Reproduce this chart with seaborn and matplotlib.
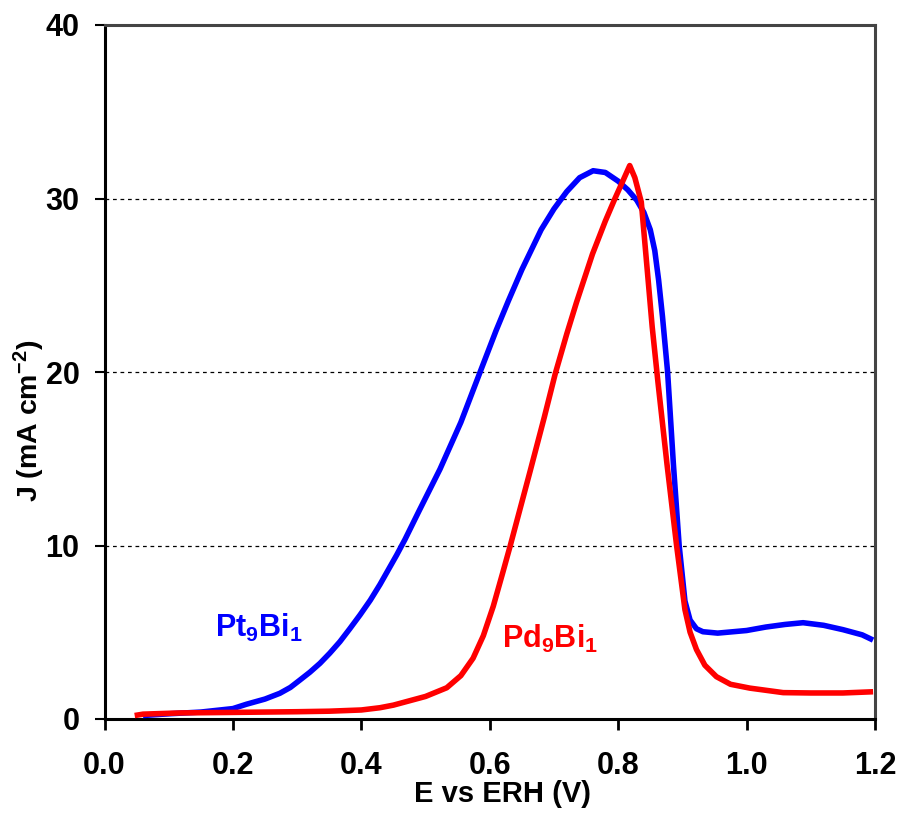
import numpy as np
import pandas as pd
import matplotlib
matplotlib.use("Agg")
import matplotlib.pyplot as plt
import seaborn as sns

# Pt9Bi1 (blue)
pt_E = [0.06, 0.10, 0.15, 0.20, 0.221, 0.25, 0.273, 0.2895, 0.3045, 0.32, 0.3356, 0.351,
        0.3667, 0.382, 0.398, 0.414, 0.429, 0.442, 0.455, 0.468, 0.49, 0.5225, 0.555,
        0.585, 0.61, 0.629, 0.65, 0.68, 0.70, 0.72, 0.74, 0.761, 0.78, 0.80, 0.815,
        0.829, 0.84, 0.85, 0.857, 0.863, 0.869, 0.877, 0.886, 0.895, 0.904, 0.912,
        0.922, 0.932, 0.955, 0.979, 1.00, 1.03, 1.06, 1.088, 1.12, 1.15, 1.18, 1.197]
pt_J = [0.2, 0.3, 0.4, 0.6, 0.85, 1.15, 1.48, 1.82, 2.25, 2.7, 3.21, 3.8,
        4.46, 5.2, 6.0, 6.85, 7.75, 8.6, 9.45, 10.35, 12.0, 14.4, 17.1,
        20.0, 22.4, 24.1, 25.9, 28.2, 29.4, 30.4, 31.2, 31.6, 31.5, 31.0, 30.5,
        29.9, 29.2, 28.2, 27.0, 25.3, 23.2, 20.0, 14.7, 10.0, 6.8, 5.7,
        5.2, 5.03, 4.95, 5.03, 5.1, 5.3, 5.45, 5.55, 5.4, 5.15, 4.85, 4.55]

# Pd9Bi1 (red)
pd_E = [0.047, 0.06, 0.118, 0.20, 0.30, 0.35, 0.40, 0.429, 0.45, 0.47, 0.50, 0.533,
        0.555, 0.574, 0.59, 0.6055, 0.62, 0.632, 0.663, 0.685, 0.702, 0.72, 0.735,
        0.76, 0.78, 0.795, 0.806, 0.818, 0.826, 0.836, 0.845, 0.853, 0.862, 0.876,
        0.891, 0.904, 0.912, 0.922, 0.935, 0.953, 0.975, 1.005, 1.057, 1.10, 1.15, 1.197]
pd_J = [0.2, 0.28, 0.35, 0.38, 0.42, 0.45, 0.52, 0.65, 0.8, 1.0, 1.3, 1.8,
        2.5, 3.5, 4.8, 6.5, 8.4, 10.0, 14.3, 17.4, 19.9, 22.2, 24.0,
        26.8, 28.7, 30.0, 30.9, 31.9, 31.2, 29.8, 26.0, 22.6, 19.4, 14.7,
        10.0, 6.3, 5.0, 4.0, 3.1, 2.44, 2.0, 1.78, 1.52, 1.5, 1.5, 1.57]

x_ticks = [0.0, 0.2, 0.4, 0.6, 0.8, 1.0, 1.2]
x_tick_labels = ["0.0", "0.2", "0.4", "0.6", "0.8", "1.0", "1.2"]
y_ticks = [0, 10, 20, 30, 40]
y_tick_labels = ["0", "10", "20", "30", "40"]

sns.set_theme(style="white")
plt.rcParams["font.family"] = ["Liberation Sans", "DejaVu Sans"]
plt.rcParams["font.weight"] = "bold"
plt.rcParams["mathtext.fontset"] = "custom"
plt.rcParams["mathtext.rm"] = "Liberation Sans:bold"
plt.rcParams["mathtext.bf"] = "Liberation Sans:bold"
plt.rcParams["mathtext.it"] = "Liberation Sans:bold"
plt.rcParams["mathtext.default"] = "bf"

fig = plt.figure(figsize=(9.01, 8.16), dpi=100)
ax = fig.add_axes([104.5 / 901, 97 / 816, 770.5 / 901, 694 / 816])

df_pt = pd.DataFrame({"E": pt_E, "J": pt_J})
df_pd = pd.DataFrame({"E": pd_E, "J": pd_J})

for y in [10, 20, 30]:
    ax.axhline(y, color="black", linestyle=(0, (3, 3)), linewidth=0.9, zorder=1)

sns.lineplot(data=df_pt, x="E", y="J", ax=ax, color="#0000FF", linewidth=4.0,
             sort=False, estimator=None, zorder=3)
sns.lineplot(data=df_pd, x="E", y="J", ax=ax, color="#FF0000", linewidth=4.0,
             sort=False, estimator=None, zorder=4)
for ln in ax.lines:
    ln.set_solid_joinstyle("round")
    ln.set_solid_capstyle("butt")

ax.set_xlim(0, 1.2)
ax.set_ylim(0, 40)
ax.set_xticks(x_ticks)
ax.set_xticklabels(x_tick_labels)
ax.set_yticks(y_ticks)
ax.set_yticklabels(y_tick_labels)

ax.tick_params(axis="x", direction="out", length=8, width=2, color="black",
               labelsize=22, pad=15, bottom=True)
ax.tick_params(axis="y", direction="out", length=7, width=1.5, color="black",
               labelsize=22, pad=11, left=True)
for lab in ax.get_xticklabels() + ax.get_yticklabels():
    lab.set_fontweight("bold")
    lab.set_color("black")

for side in ["left", "bottom"]:
    ax.spines[side].set_color("black")
    ax.spines[side].set_linewidth(2.2)
for side in ["top", "right"]:
    ax.spines[side].set_color("#444444")
    ax.spines[side].set_linewidth(2.2)

ax.set_xlabel("E vs ERH (V)", fontsize=21, fontweight="bold", color="black")
ax.set_ylabel("J (mA cm$^{-2}$)", fontsize=20.5, fontweight="bold", color="black")
ax.xaxis.set_label_coords(0.516, -0.108)
ax.yaxis.set_label_coords(-0.098, 0.43)
ax.yaxis.label.set_va("center")
ax.xaxis.label.set_va("center")

ax.text(0.172, 4.73, "Pt$_{9}$Bi$_{1}$", color="#0000FF", fontsize=22,
        fontweight="bold", ha="left", va="baseline")
ax.text(0.619, 4.09, "Pd$_{9}$Bi$_{1}$", color="#FF0000", fontsize=22,
        fontweight="bold", ha="left", va="baseline")

fig.savefig("out.png", dpi=100, facecolor="white")
